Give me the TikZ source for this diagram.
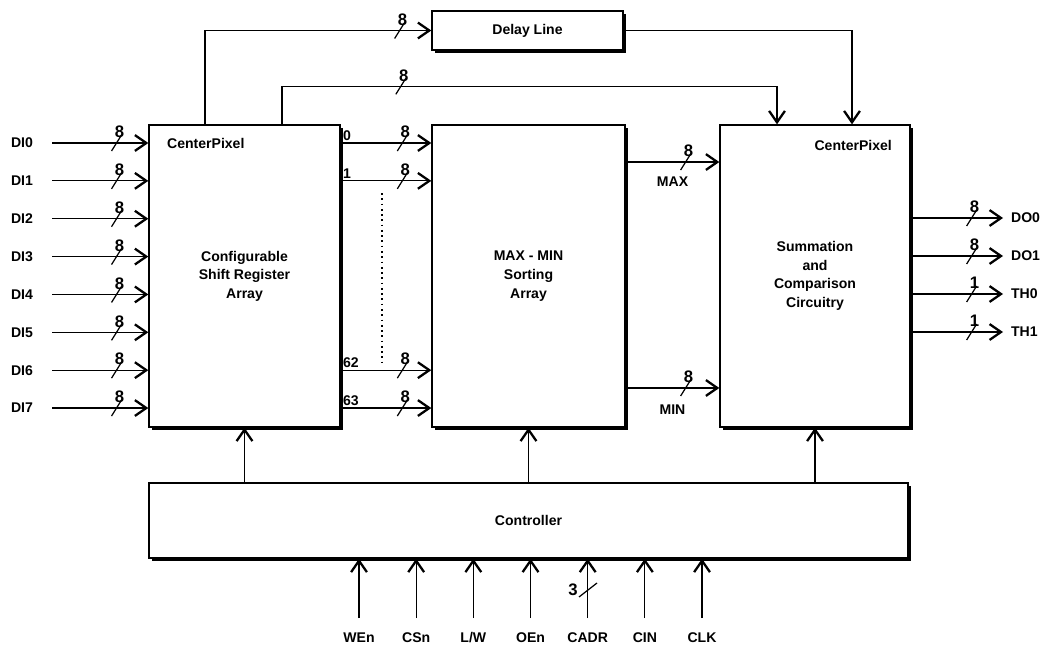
\documentclass[tikz,border=0pt]{standalone}
\usepackage{fontspec}
\setmainfont{Liberation Sans}
\usetikzlibrary{arrows.meta,shadows}

% bus width mark: slash across the line and its width
\newcommand{\busmark}[2]{%
  \draw[line width=0.7pt] (#1) ++(-5,8) -- ++(10,-16);
  \node[buslbl] (#1-w) at ([shift={(3,-11)}]#1) {#2};}

\begin{document}
\begin{tikzpicture}[x=0.02cm,y=-0.02cm,
  blk/.style={draw,line width=0.8pt,fill=white,align=center,inner sep=0pt,
    drop shadow={shadow xshift=0.06cm,shadow yshift=-0.06cm,opacity=1,fill=black},
    font=\bfseries\fontsize{8}{10.6}\selectfont},
  lbl/.style={font=\bfseries\fontsize{8}{10}\selectfont,inner sep=1pt},
  buslbl/.style={font=\bfseries\fontsize{9.5}{10}\selectfont,inner sep=0pt},
  sig/.style={line width=0.7pt,-{Straight Barb[length=6.5pt,width=9pt,line width=1.3pt]}}]
\useasboundingbox (0,0) rectangle (1054,646);

% blocks
\node[blk,minimum width=3.82cm,minimum height=6.04cm] (sr) at (244.5,276) {Configurable\\Shift Register\\Array};
\node[blk,minimum width=3.86cm,minimum height=6.04cm] (mm) at (528.5,276) {MAX - MIN\\Sorting\\Array};
\node[blk,minimum width=3.80cm,minimum height=6.04cm] (sc) at (815,276) {Summation\\and\\Comparison\\Circuitry};
\node[blk,minimum width=3.82cm,minimum height=0.78cm] (dl) at (527.5,30.5) {Delay Line};
\node[blk,minimum width=15.18cm,minimum height=1.5cm] (ctl) at (528.5,520.5) {Controller};

\node[lbl,anchor=west] (cp1) at (165,143) {CenterPixel};
\node[lbl,anchor=east] (cp2) at (894,145) {CenterPixel};

% data inputs
\foreach \i in {0,...,7}{
  \pgfmathsetmacro\yy{143+37.86*\i}
  \node[lbl] (di\i) at (22,\yy) {DI\i};
  \coordinate (din\i) at (52,\yy);
  \draw[sig] (din\i) -- coordinate[pos=0.67] (dm\i) (sr.west |- din\i);
  \busmark{dm\i}{8}
}

% shift register outputs
\foreach \i/\t in {0/0,1/1,6/62,7/63}{
  \draw[sig] (sr.east |- din\i) node[lbl,anchor=south west] (sn\i) {\t}
    -- coordinate[pos=0.68] (sm\i) (mm.west |- din\i);
  \busmark{sm\i}{8}
}
\draw[dotted,line width=1pt] (382,193) -- (382,362);

% max / min
\draw[sig] ([yshift=2.28cm]mm.east) -- coordinate[pos=0.64] (mxm)
  node[lbl,pos=0.5,below=0.24cm] (mxl) {MAX} ([yshift=2.28cm]sc.west);
\busmark{mxm}{8}
\draw[sig] ([yshift=-2.24cm]mm.east) -- coordinate[pos=0.64] (mnm)
  node[lbl,pos=0.5,below=0.28cm] (mnl) {MIN} ([yshift=-2.24cm]sc.west);
\busmark{mnm}{8}

% delay line and centre pixel buses
\draw[sig] (sr.north -| 205,0) |- coordinate[pos=0.93] (dlm) (dl.west);
\busmark{dlm}{8}
\draw[sig] (dl.east) -| (sc.north -| 852,0);
\draw[sig] (sr.north -| 282,0) -- ++(0,-38) -| coordinate[pos=0.12] (cpm) (sc.north -| 777,0);
\busmark{cpm}{8}

% outputs
\foreach \o/\w [count=\k] in {DO0/8,DO1/8,TH0/1,TH1/1}{
  \pgfmathsetmacro\yy{218+38*(\k-1)}
  \coordinate (oe\k) at (1003,\yy);
  \draw[sig] (sc.east |- oe\k) -- coordinate[pos=0.66] (om\k) (oe\k);
  \busmark{om\k}{\w}
  \node[lbl,anchor=west] (out\k) at (1009,\yy) {\o};
}

% controller
\foreach \b in {sr,mm,sc}
  \draw[sig] (ctl.north -| \b.south) -- (\b.south);
\foreach \s [count=\k] in {WEn,CSn,L/W,OEn,CADR,CIN,CLK}{
  \pgfmathsetmacro\xx{359+57.17*(\k-1)}
  \node[lbl] (in\k) at (\xx,638) {\s};
  \coordinate (ins\k) at (\xx,618);
  \draw[sig] (ins\k) -- (ctl.south -| ins\k);
}
\coordinate (cadm) at (588,590);
\draw[line width=0.7pt] (cadm) ++(-9,7) -- ++(18,-14);
\node[buslbl] (cadw) at (573,590) {3};
\end{tikzpicture}
\end{document}
